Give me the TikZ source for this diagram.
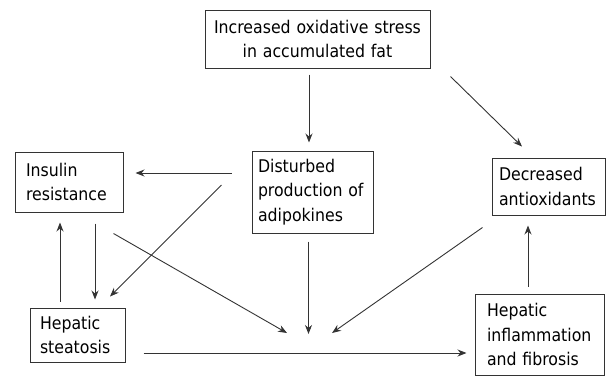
\documentclass[tikz,border=0pt]{standalone}
\usepackage{fontspec}
\setmainfont{DejaVu Sans Condensed}
\usetikzlibrary{arrows.meta,calc}
\definecolor{ln}{HTML}{333333}
\tikzset{
  box/.style={draw=ln, line width=1pt, rectangle, inner ysep=0pt, align=left,
    font=\fontsize{17.5pt}{24.5pt}\selectfont, text=black},
  arr/.style={draw=ln, line width=0.9pt, -{Stealth[length=9pt,width=7pt]}}
}
\begin{document}
\begin{tikzpicture}[x=1pt,y=-1pt]
\useasboundingbox (0,0) rectangle (611,376);
\node[box, align=center, minimum width=225pt, minimum height=58pt, text width=219pt, inner xsep=3pt] (top) at (317.5,39) {Increased oxidative stress\\in accumulated fat};
\node[box, minimum width=108pt, minimum height=60pt, text width=86pt, inner xsep=11pt] (ins) at (69,182) {Insulin\\resistance};
\node[box, minimum width=95pt, minimum height=54pt, text width=75pt, inner xsep=10pt] (steat) at (77.5,335) {Hepatic\\steatosis};
\node[box, minimum width=121pt, minimum height=82pt, text width=109pt, inner xsep=6pt] (dist) at (312.5,192) {Disturbed\\production of\\adipokines};
\node[box, minimum width=113pt, minimum height=57pt, text width=99pt, inner xsep=7pt] (dec) at (548.5,186.5) {Decreased\\antioxidants};
\node[box, minimum width=129pt, minimum height=81pt, text width=105pt, inner xsep=12pt] (infl) at (539.5,334.5) {Hepatic\\inflammation\\and fibrosis};
\coordinate (hub) at (308.5,334);
\draw[arr] ($(top.south)+(-8.5,6)$) -- ($(dist.north)+(-3.5,-8)$);
\draw[arr] ($(top.south east)+(20,8)$) -- ($(dec.north)+(-26.5,-11)$);
\draw[arr] ($(dist.west)+(-20,-19)$) -- ($(ins.east)+(12,-9)$);
\draw[arr] ($(dist.west)+(-30,-7)$) -- ($(steat.north)+(32.5,-11)$);
\draw[arr] ($(ins.south)+(26,11)$) -- ($(steat.north)+(17.5,-8)$);
\draw[arr] ($(steat.north)+(-17.5,-6)$) -- ($(ins.south)+(-9,10)$);
\draw[arr] ($(ins.south east)+(-10,21)$) -- ($(hub)+(-21.5,-1)$);
\draw[arr] ($(dist.south)+(-4,8)$) -- (hub);
\draw[arr] ($(dec.south west)+(-9,12)$) -- ($(hub)+(23.5,-1)$);
\draw[arr] ($(steat.east)+(18,18)$) -- ($(infl.west)+(-8,18.5)$);
\draw[arr] ($(infl.north)+(-11.5,-7)$) -- ($(dec.south)+(-20.5,10)$);
\end{tikzpicture}
\end{document}
